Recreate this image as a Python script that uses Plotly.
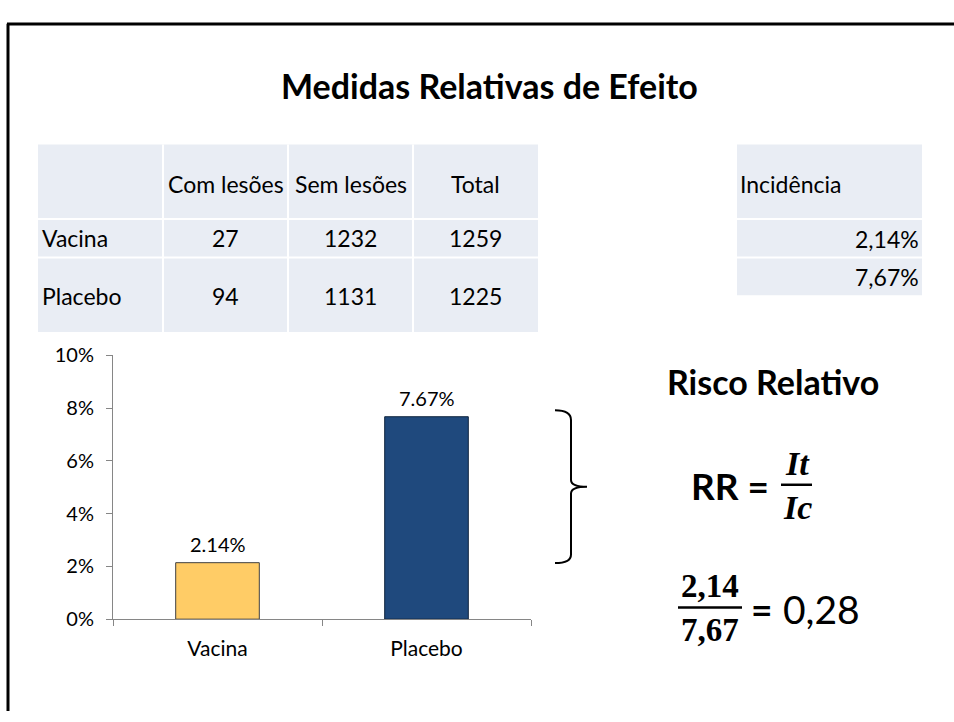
import plotly.graph_objects as go

# ---------------- data ----------------
groups = ["Vacina", "Placebo"]
incidence = [0.0214, 0.0767]
table_header = ["", "Com lesões", "Sem lesões", "Total"]
com_lesoes = [27, 94]
sem_lesoes = [1232, 1131]
totals = [1259, 1225]
incid_labels = ["2,14%", "7,67%"]
y_ticks = [0, 0.02, 0.04, 0.06, 0.08, 0.10]

W, H = 954, 722
FONT = "Lato"
SERIF = "Liberation Serif"


def px(x):
    return x / W


def py(y):
    return 1 - y / H


fig = go.Figure()
fig.add_trace(go.Bar(
    x=groups, y=incidence,
    marker=dict(color=["#FFCC66", "#1F497D"],
                line=dict(color=["#404040", "#0F243E"], width=1)),
    cliponaxis=False, width=0.4, hoverinfo="skip",
))

shapes = []
annotations = []

# bar value labels (placed through the axes' scales)
for g, v in zip(groups, incidence):
    annotations.append(dict(xref="x", yref="y", x=g, y=v, text=f"{v:.2%}",
                            showarrow=False, xanchor="center", yanchor="middle",
                            yshift=19, font=dict(family=FONT, size=20, color="#000000")))

# slide frame
shapes.append(dict(type="line", xref="paper", yref="paper",
                   x0=px(7), x1=px(954), y0=py(11.5), y1=py(11.5),
                   line=dict(color="#000000", width=3)))
shapes.append(dict(type="line", xref="paper", yref="paper",
                   x0=px(8), x1=px(8), y0=py(11), y1=py(722),
                   line=dict(color="#000000", width=3)))

FILL = "#E9EDF4"
# main table
col_edges = [38, 163, 288, 413, 538]
row_edges = [136, 213, 253, 330]
shapes.append(dict(type="rect", xref="paper", yref="paper",
                   x0=px(col_edges[0]), x1=px(col_edges[-1]),
                   y0=py(row_edges[0]), y1=py(row_edges[-1]),
                   fillcolor=FILL, line=dict(width=0), layer="below"))
for xe in col_edges[1:-1]:
    shapes.append(dict(type="line", xref="paper", yref="paper",
                       x0=px(xe), x1=px(xe), y0=py(row_edges[0]), y1=py(row_edges[-1]),
                       line=dict(color="white", width=2)))
for ye in row_edges[1:-1]:
    shapes.append(dict(type="line", xref="paper", yref="paper",
                       x0=px(col_edges[0]), x1=px(col_edges[-1]), y0=py(ye), y1=py(ye),
                       line=dict(color="white", width=2)))

# incidence table
inc_x = [737, 922]
inc_rows = [136, 213, 253, 292]
shapes.append(dict(type="rect", xref="paper", yref="paper",
                   x0=px(inc_x[0]), x1=px(inc_x[1]), y0=py(inc_rows[0]), y1=py(inc_rows[-1]),
                   fillcolor=FILL, line=dict(width=0), layer="below"))
for ye in inc_rows[1:-1]:
    shapes.append(dict(type="line", xref="paper", yref="paper",
                       x0=px(inc_x[0]), x1=px(inc_x[1]), y0=py(ye), y1=py(ye),
                       line=dict(color="white", width=2)))

TS = 23


def txt(x, y, s, size=TS, anchor="center", bold=False, family=FONT, italic=False):
    t = f"<b>{s}</b>" if bold else s
    if italic:
        t = f"<i>{t}</i>"
    annotations.append(dict(xref="paper", yref="paper", x=px(x), y=py(y), text=t,
                            showarrow=False, xanchor=anchor, yanchor="middle",
                            font=dict(family=family, size=size, color="#000000")))


# title
txt(489, 75, "Medidas Relativas de Efeito", size=34, bold=True)

# table text
col_centers = [(col_edges[i] + col_edges[i + 1]) / 2 for i in range(4)]
for i, h in enumerate(table_header):
    if h:
        txt(col_centers[i], 177, h)
row_ys = [233, 293]
for r, g in enumerate(groups):
    txt(40, row_ys[r], g, anchor="left")
    txt(col_centers[1], row_ys[r], str(com_lesoes[r]))
    txt(col_centers[2], row_ys[r], str(sem_lesoes[r]))
    txt(col_centers[3], row_ys[r], str(totals[r]))

txt(738, 177, "Incidência", anchor="left")
txt(921, 234, incid_labels[0], anchor="right")
txt(921, 273, incid_labels[1], anchor="right")

# Risco relativo block
txt(773, 381, "Risco Relativo", size=34, bold=True)
txt(771, 489, "RR =", size=37, bold=True, anchor="right")
txt(797, 466, "It", size=34, bold=True, italic=True, family=SERIF)
txt(797, 511, "Ic", size=34, bold=True, italic=True, family=SERIF)
shapes.append(dict(type="line", xref="paper", yref="paper",
                   x0=px(781), x1=px(812), y0=py(488), y1=py(488),
                   line=dict(color="#000000", width=2.5)))

txt(710, 593, "2,14", size=33, bold=True, family=SERIF)
txt(710, 638, "7,67", size=33, bold=True, family=SERIF)
shapes.append(dict(type="line", xref="paper", yref="paper",
                   x0=px(678), x1=px(742), y0=py(615), y1=py(615),
                   line=dict(color="#000000", width=2.5)))
txt(761, 616, "=", size=37, bold=True)
txt(781, 616, "0,28", size=39, anchor="left")

# brace
pts = [(555, 411), (571, 411), (571, 421), (571, 483), (571, 490), (587, 490),
       (571, 490), (571, 497), (571, 560), (571, 569), (555, 569)]
P = [(px(a), py(b)) for a, b in pts]
path = (f"M {P[0][0]},{P[0][1]} Q {P[1][0]},{P[1][1]} {P[2][0]},{P[2][1]} "
        f"L {P[3][0]},{P[3][1]} Q {P[4][0]},{P[4][1]} {P[5][0]},{P[5][1]} "
        f"Q {P[6][0]},{P[6][1]} {P[7][0]},{P[7][1]} "
        f"L {P[8][0]},{P[8][1]} Q {P[9][0]},{P[9][1]} {P[10][0]},{P[10][1]}")
shapes.append(dict(type="path", xref="paper", yref="paper", path=path,
                   line=dict(color="#000000", width=2)))

fig.update_layout(
    width=W, height=H, margin=dict(l=0, r=0, t=0, b=0),
    paper_bgcolor="white", plot_bgcolor="white",
    showlegend=False, shapes=shapes, annotations=annotations,
    bargap=0.6,
    xaxis=dict(domain=[px(113), px(531)], type="category",
               showline=True, linecolor="#868686", linewidth=1,
               ticks="outside", tickson="boundaries", ticklen=6, tickcolor="#868686",
               tickfont=dict(family=FONT, size=21, color="#000000"),
               ticklabelstandoff=11, showgrid=False, zeroline=False, fixedrange=True),
    yaxis=dict(domain=[py(627), py(354)], range=[0, 0.10],
               tickvals=y_ticks, tickformat=".0%",
               showline=True, linecolor="#868686", linewidth=1,
               ticks="outside", ticklen=6, tickcolor="#868686",
               tickfont=dict(family=FONT, size=20, color="#000000"),
               ticklabelstandoff=8,
               showgrid=False, zeroline=False, fixedrange=True),
)

fig.write_html("out.html", config={"displayModeBar": False},
               post_script="document.body.style.margin='0';document.body.style.overflow='hidden';")
